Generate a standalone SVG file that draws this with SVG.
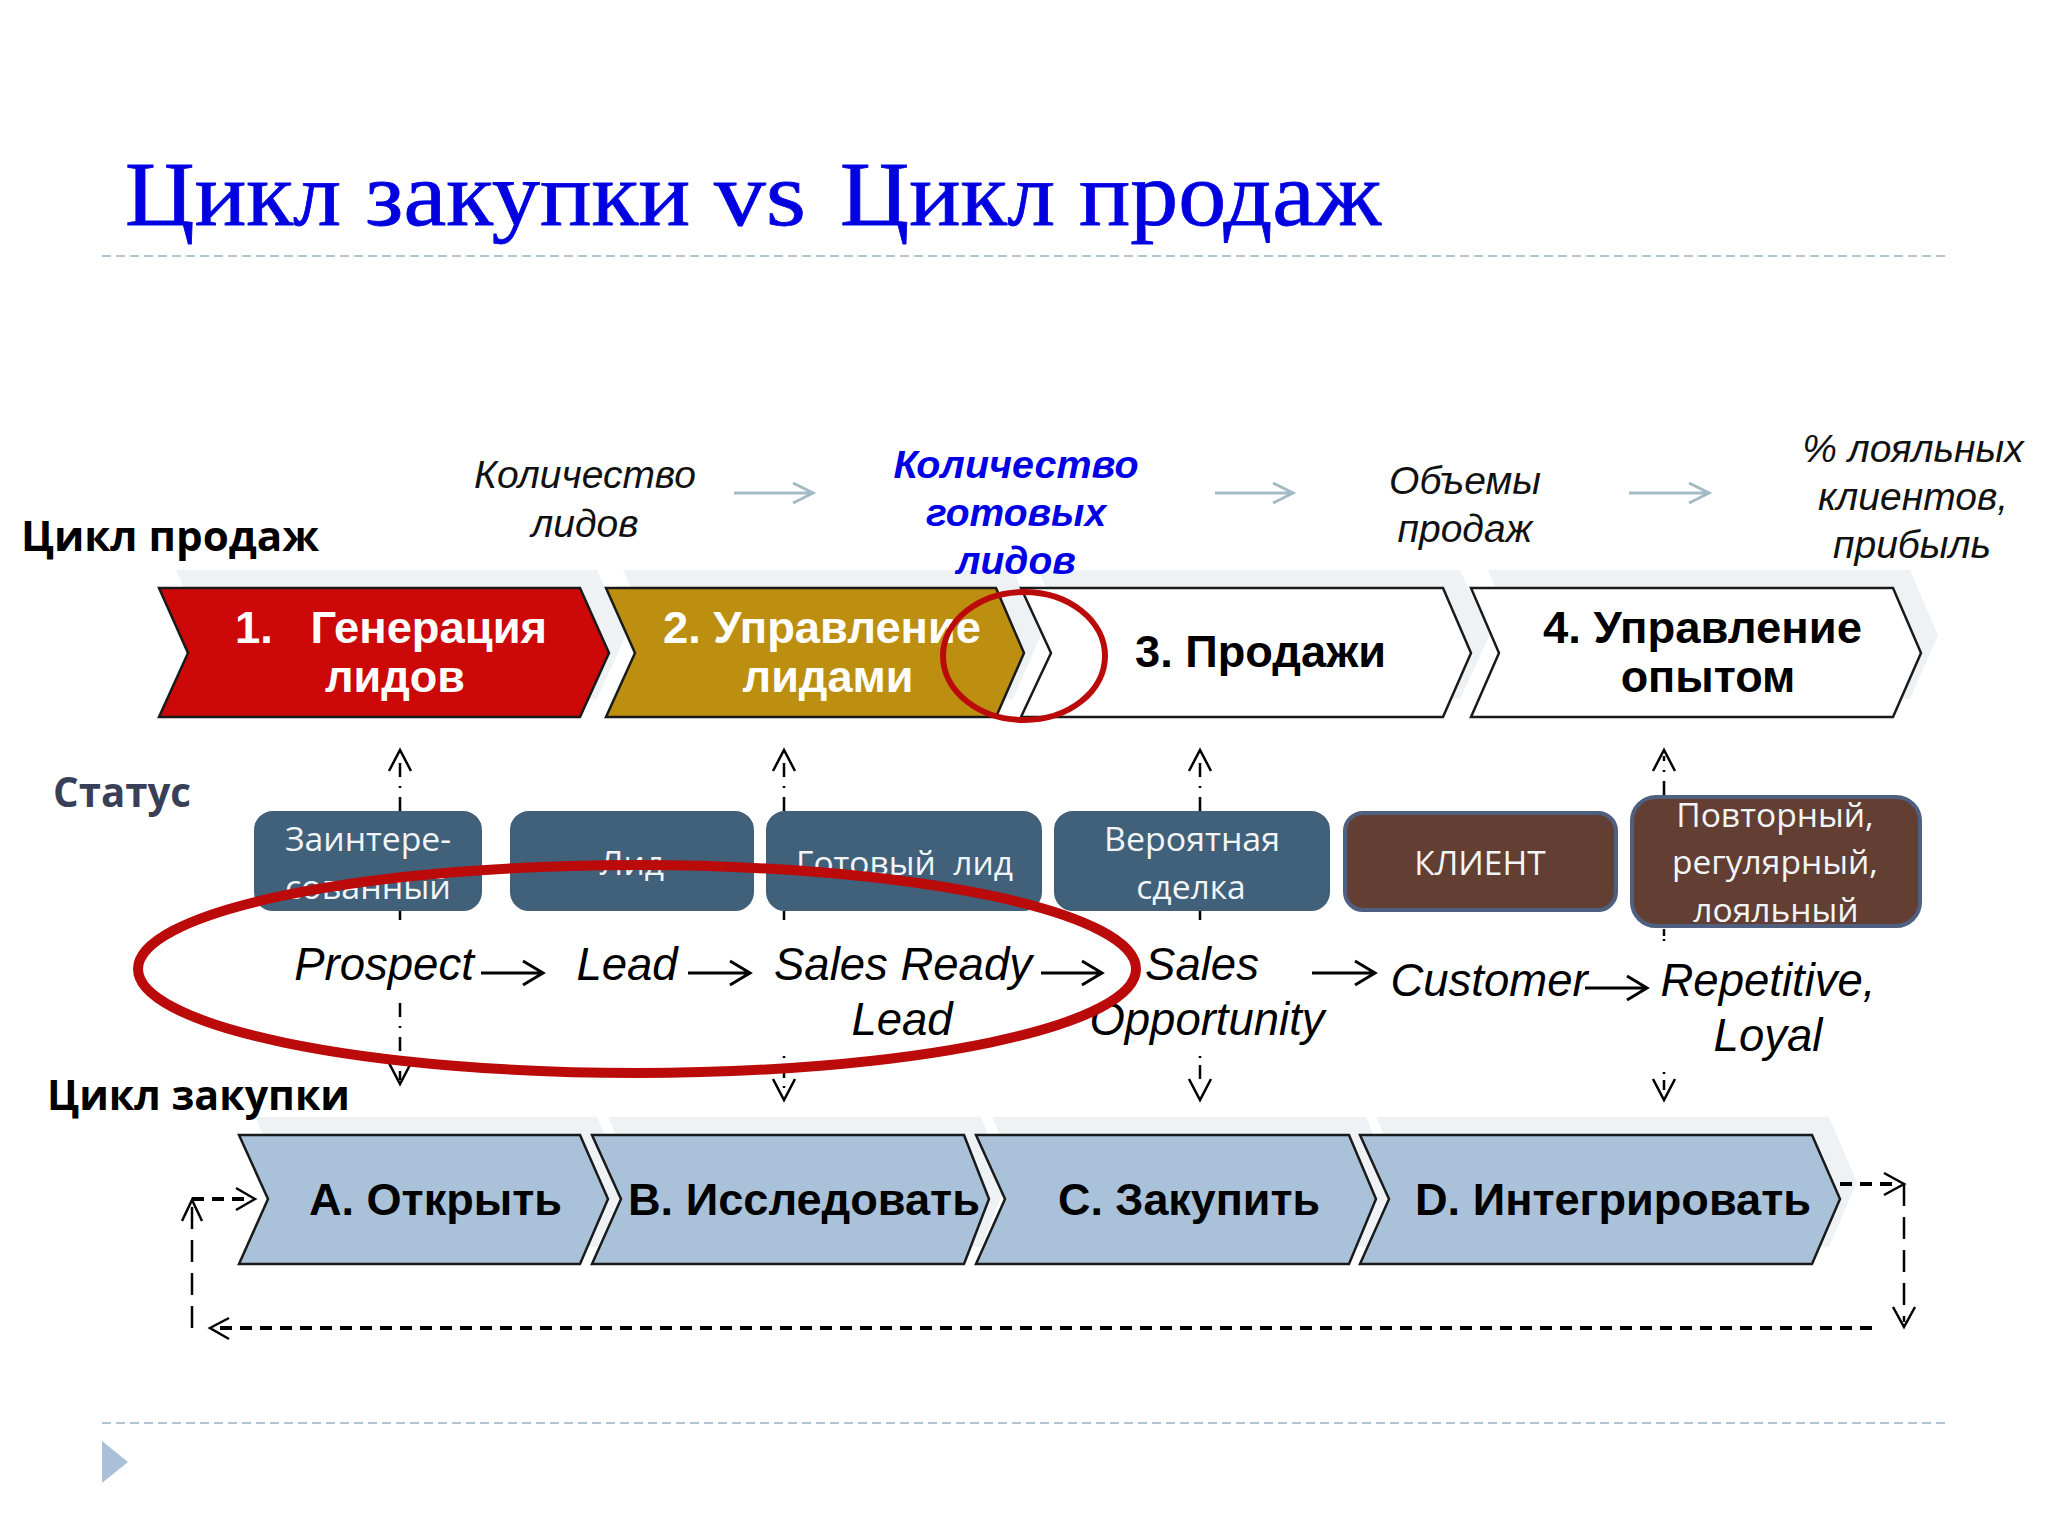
<svg xmlns="http://www.w3.org/2000/svg" width="2048" height="1536" viewBox="0 0 2048 1536">
<style>
.t{font-family:"Liberation Sans",Arial,sans-serif}
.cb{font-weight:bold;font-size:45px;fill:#000}
.cw{font-weight:bold;font-size:45px;fill:#fff}
.it{font-style:italic;font-size:45.5px;fill:#000}
.kp{font-style:italic;font-size:39px;fill:#111}
.kb{font-style:italic;font-weight:bold;font-size:39px;fill:#0000e6}
.st{font-family:"Open Sans","Noto Sans",sans-serif;font-size:33.6px;fill:#f2f5f7}
.hd{font-family:"Open Sans","Noto Sans",sans-serif;font-weight:bold;font-size:42px}
.ti{font-family:"Liberation Serif","Times New Roman",serif;font-size:92px;fill:#0000e0;stroke:#0000e0;stroke-width:.8}
.ch{stroke:#1a1a1a;stroke-width:2.5;stroke-linejoin:miter}
.sh{fill:#eef2f4}
.dv{stroke:#b3c5d0;stroke-width:2;stroke-dasharray:9 5;fill:none}
.ar{stroke:#000;stroke-width:3;fill:none}
.ag{stroke:#a3bcc3;stroke-width:3;fill:none}
.dk{stroke:#000;stroke-width:2.5;fill:none}
.dd{stroke-dasharray:14 9 2 9}
.ds{stroke-dasharray:12 8;stroke-width:4}
.dl{stroke-dasharray:22 11}
.box{stroke:#41607a;stroke-width:2}
.brn{fill:#633f33;stroke:#4f5f80;stroke-width:4}
.el{fill:none;stroke:#bb0a0a}
</style>
<rect width="2048" height="1536" fill="#fff"/>
<g id="title">
<text class="ti" x="125" y="225" textLength="565" lengthAdjust="spacingAndGlyphs">Цикл закупки</text>
<text class="ti" x="714" y="225" textLength="92" lengthAdjust="spacingAndGlyphs">vs</text>
<text class="ti" x="840" y="225" textLength="541" lengthAdjust="spacingAndGlyphs">Цикл продаж</text>
</g>
<line class="dv" x1="102" y1="256" x2="1946" y2="256"/>
<line class="dv" x1="102" y1="1423" x2="1946" y2="1423"/>
<polygon points="102,1441 128,1462 102,1483" fill="#a9c0d8"/>

<g id="shadows">
<polygon class="sh" points="176,570 597,570 626,635 597,699 176,699 205,635"/>
<polygon class="sh" points="623,570 1013,570 1041,635 1013,699 623,699 652,635"/>
<polygon class="sh" points="1038,570 1460,570 1490,635 1460,699 1038,699 1068,635"/>
<polygon class="sh" points="1488,570 1910,570 1938,635 1910,699 1488,699 1516,635"/>
<polygon class="sh" points="255,1117 597,1117 627,1182 597,1247 255,1247 284,1182"/>
<polygon class="sh" points="608,1117 981,1117 1007,1182 981,1247 608,1247 637,1182"/>
<polygon class="sh" points="992,1117 1366,1117 1394,1182 1366,1247 992,1247 1021,1182"/>
<polygon class="sh" points="1376,1117 1829,1117 1857,1182 1829,1247 1376,1247 1405,1182"/>
</g>

<g id="sales-1"><polygon class="ch" fill="#cc0808" points="159,588 580,588 609,653 580,717 159,717 188,653"/>
<text class="t cw" x="235" y="643" textLength="312" lengthAdjust="spacingAndGlyphs" xml:space="preserve">1.   Генерация</text>
<text class="t cw" x="395" y="692" text-anchor="middle">лидов</text></g>
<g id="sales-2"><polygon class="ch" fill="#bc8f10" points="606,588 996,588 1024,653 996,717 606,717 635,653"/>
<text class="t cw" x="663" y="643" textLength="318" lengthAdjust="spacingAndGlyphs">2. Управление</text>
<text class="t cw" x="828" y="692" text-anchor="middle">лидами</text></g>
<g id="sales-3"><polygon class="ch" fill="#fff" points="1021,588 1443,588 1471,653 1443,717 1021,717 1051,653"/>
<text class="t cb" x="1135" y="667" textLength="251" lengthAdjust="spacingAndGlyphs">3. Продажи</text></g>
<g id="sales-4"><polygon class="ch" fill="#fff" points="1471,588 1893,588 1921,653 1893,717 1471,717 1499,653"/>
<text class="t cb" x="1543" y="643" textLength="319" lengthAdjust="spacingAndGlyphs">4. Управление</text>
<text class="t cb" x="1708" y="692" text-anchor="middle">опытом</text></g>

<g id="buy-a"><polygon class="ch" fill="#a9c2da" points="239,1135 580,1135 608,1199 580,1264 239,1264 268,1199"/>
<text class="t cb" x="309" y="1215" textLength="253" lengthAdjust="spacingAndGlyphs">A. Открыть</text></g>
<g id="buy-b"><polygon class="ch" fill="#a9c2da" points="592,1135 964,1135 989,1199 964,1264 592,1264 621,1199"/>
<text class="t cb" x="628" y="1215" textLength="352" lengthAdjust="spacingAndGlyphs">B. Исследовать</text></g>
<g id="buy-c"><polygon class="ch" fill="#a9c2da" points="976,1135 1349,1135 1376,1199 1349,1264 976,1264 1005,1199"/>
<text class="t cb" x="1058" y="1215" textLength="262" lengthAdjust="spacingAndGlyphs">C. Закупить</text></g>
<g id="buy-d"><polygon class="ch" fill="#a9c2da" points="1360,1135 1812,1135 1840,1199 1812,1264 1360,1264 1389,1199"/>
<text class="t cb" x="1415" y="1215" textLength="396" lengthAdjust="spacingAndGlyphs">D. Интегрировать</text></g>

<g id="connectors">
<path class="ag" d="M736,493H813M795,483L815,493L795,503" transform="translate(-2 0)"/>
<path class="ag" d="M1217,493H1293M1275,483L1295,493L1275,503" transform="translate(-2 0)"/>
<path class="ag" d="M1631,493H1709M1691,483L1711,493L1691,503" transform="translate(-2 0)"/>
<path class="ar" d="M481,973H541M523,961L543,973L523,985"/>
<path class="ar" d="M688,973H748M730,961L750,973L730,985"/>
<path class="ar" d="M1041,973H1100M1082,961L1102,973L1082,985"/>
<path class="ar" d="M1312,973H1373M1355,961L1375,973L1355,985"/>
<path class="ar" d="M1585,988H1645M1627,976L1647,988L1627,1000"/>

<path class="dk dd" d="M400,811V756"/><path class="dk" d="M389,771L400,750L411,771"/>
<path class="dk" d="M400,911V920"/>
<path class="dk dd" d="M400,1003V1080"/><path class="dk" d="M389,1063L400,1084L411,1063"/>
<path class="dk dd" d="M784,811V756"/><path class="dk" d="M773,771L784,750L795,771"/>
<path class="dk" d="M784,911V920"/>
<path class="dk" d="M784,1056V1058M784,1067V1078M784,1086V1088"/><path class="dk" d="M773,1079L784,1100L795,1079"/>
<path class="dk dd" d="M1200,811V756"/><path class="dk" d="M1189,771L1200,750L1211,771"/>
<path class="dk" d="M1200,911V920"/>
<path class="dk" d="M1200,1056V1058M1200,1065V1079"/><path class="dk" d="M1189,1079L1200,1100L1211,1079"/>
<path class="dk dd" d="M1664,795V756"/><path class="dk" d="M1653,771L1664,750L1675,771"/>
<path class="dk" d="M1664,929V936M1664,939V941"/>
<path class="dk" d="M1664,1072V1074M1664,1080V1090"/><path class="dk" d="M1653,1079L1664,1100L1675,1079"/>

<path class="dk ds" d="M1872,1328H214"/><path class="dk" stroke-width="3" d="M229,1318L210,1328L229,1339"/>
<path class="dk dl" d="M192,1328V1204"/><path class="dk" d="M182,1221L192,1200L202,1221"/>
<path class="dk ds" d="M192,1199H250"/><path class="dk" d="M236,1188L255,1199L236,1210"/>
<path class="dk ds" d="M1840,1184H1900"/><path class="dk" d="M1884,1173L1904,1184L1884,1195"/>
<path class="dk dl" d="M1904,1184V1322"/><path class="dk" d="M1893,1307L1904,1327L1915,1307"/>
</g>

<g id="status-1"><rect class="box" fill="#41607a" x="255" y="812" width="226" height="98" rx="18"/>
<text class="st" x="285" y="851" textLength="166" lengthAdjust="spacingAndGlyphs">Заинтере-</text>
<text class="st" x="285" y="899" textLength="166" lengthAdjust="spacingAndGlyphs">сованный</text></g>
<g id="status-2"><rect class="box" fill="#41607a" x="511" y="812" width="242" height="98" rx="18"/>
<text class="st" x="632" y="875" text-anchor="middle">Лид</text></g>
<g id="status-3"><rect class="box" fill="#41607a" x="767" y="812" width="274" height="98" rx="18"/>
<text class="st" x="796" y="875" textLength="217" lengthAdjust="spacingAndGlyphs" xml:space="preserve">Готовый  лид</text></g>
<g id="status-4"><rect class="box" fill="#41607a" x="1055" y="812" width="274" height="98" rx="18"/>
<text class="st" x="1192" y="851" text-anchor="middle" textLength="176" lengthAdjust="spacingAndGlyphs">Вероятная</text>
<text class="st" x="1191" y="899" text-anchor="middle">сделка</text></g>
<g id="status-5"><rect class="brn" x="1345" y="813" width="271" height="97" rx="18"/>
<text class="st" x="1480" y="875" text-anchor="middle">КЛИЕНТ</text></g>
<g id="status-6"><rect class="brn" x="1632" y="797" width="288" height="129" rx="24"/>
<text class="st" x="1775" y="827" text-anchor="middle">Повторный,</text>
<text class="st" x="1775" y="874" text-anchor="middle">регулярный,</text>
<text class="st" x="1776" y="922" text-anchor="middle">лояльный</text></g>

<g id="labels">
<text class="hd" x="21" y="551" fill="#000" textLength="298" lengthAdjust="spacingAndGlyphs">Цикл продаж</text>
<text class="hd" x="53" y="807" fill="#3a3f58" textLength="138" lengthAdjust="spacingAndGlyphs">Статус</text>
<text class="hd" x="47" y="1110" fill="#000" textLength="303" lengthAdjust="spacingAndGlyphs">Цикл закупки</text>

<text class="t kp" x="585" y="488" text-anchor="middle">Количество</text>
<text class="t kp" x="585" y="537" text-anchor="middle">лидов</text>
<text class="t kb" x="1016" y="478" text-anchor="middle" textLength="245" lengthAdjust="spacingAndGlyphs">Количество</text>
<text class="t kb" x="1016" y="526" text-anchor="middle">готовых</text>
<text class="t kb" x="1016" y="574" text-anchor="middle">лидов</text>
<text class="t kp" x="1465" y="494" text-anchor="middle">Объемы</text>
<text class="t kp" x="1465" y="542" text-anchor="middle">продаж</text>
<text class="t kp" x="1913" y="462" text-anchor="middle">% лояльных</text>
<text class="t kp" x="1913" y="510" text-anchor="middle">клиентов,</text>
<text class="t kp" x="1912" y="558" text-anchor="middle">прибыль</text>

<text class="t it" x="384" y="980" text-anchor="middle">Prospect</text>
<text class="t it" x="627" y="980" text-anchor="middle">Lead</text>
<text class="t it" x="903" y="980" text-anchor="middle">Sales Ready</text>
<text class="t it" x="902" y="1035" text-anchor="middle">Lead</text>
<text class="t it" x="1202" y="980" text-anchor="middle">Sales</text>
<text class="t it" x="1207" y="1035" text-anchor="middle">Opportunity</text>
<text class="t it" x="1489" y="996" text-anchor="middle">Customer</text>
<text class="t it" x="1768" y="996" text-anchor="middle">Repetitive,</text>
<text class="t it" x="1768" y="1051" text-anchor="middle">Loyal</text>
</g>

<g id="highlights">
<ellipse class="el" cx="1024" cy="656" rx="81" ry="64" stroke-width="6"/>
<ellipse class="el" cx="637" cy="969" rx="499" ry="104" stroke-width="10"/>
</g>
</svg>
